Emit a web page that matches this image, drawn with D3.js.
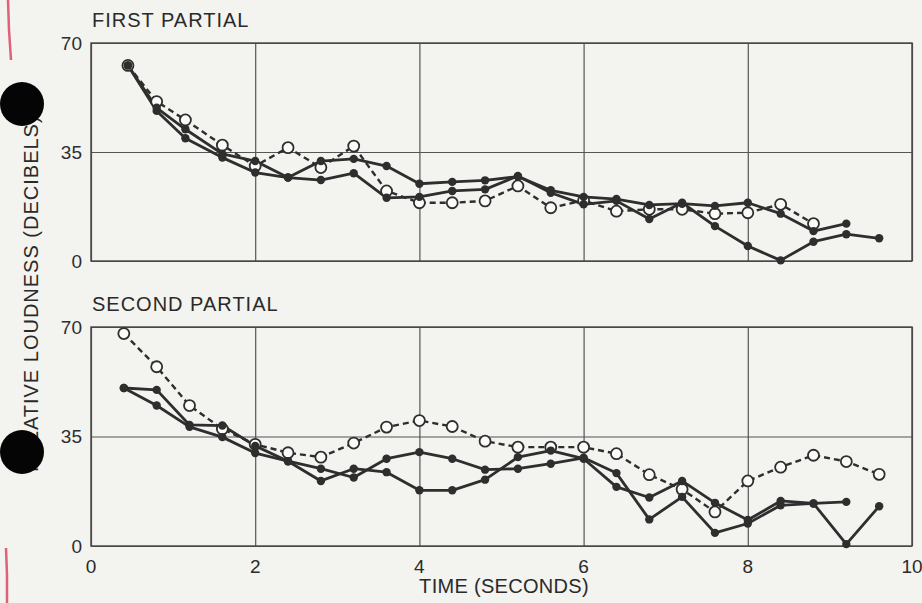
<!DOCTYPE html>
<html>
<head>
<meta charset="utf-8">
<script src="https://cdn.jsdelivr.net/npm/d3@7"></script>
<style>
  body { margin: 0; background: #f3f3f0; }
  svg { display: block; }
  text { font-family: "Liberation Sans", Arial, sans-serif; fill: #2a2a2a; }
</style>
</head>
<body>
<div id="container"></div>
<script>
/***** data *****/
let xTicks = [0, 2, 4, 6, 8, 10];
let yTicks = [0, 35, 70];

// first partial
let topTimes  = [0.45, 0.8, 1.15, 1.6, 2.0, 2.4, 2.8, 3.2, 3.6, 4.0, 4.4, 4.8, 5.2, 5.6, 6.0, 6.4, 6.8, 7.2, 7.6, 8.0, 8.4, 8.8, 9.2, 9.6];
let topA      = [62.8, 48.2, 39.4, 33.2, 28.4, 26.8, 26.0, 28.2, 20.3, 20.6, 22.5, 23.0, 27.3, 21.9, 18.2, 19.3, 13.5, 18.7, 11.2, 4.8, 0.2, 6.2, 8.6, 7.3];
let topB      = [62.8, 49.2, 42.3, 34.4, 32.1, 26.8, 32.1, 32.8, 30.5, 24.8, 25.4, 25.9, 27.1, 22.7, 20.6, 19.9, 18.0, 18.4, 17.7, 18.7, 15.2, 9.6, 12.0];
let topOpen   = [62.8, 51.2, 45.3, 37.2, 30.5, 36.4, 30.0, 36.9, 22.5, 18.7, 18.7, 19.3, 24.1, 17.1, 19.4, 16.0, 16.6, 16.6, 15.2, 15.5, 18.2, 12.0];

// second partial
let botTimes  = [0.4, 0.8, 1.2, 1.6, 2.0, 2.4, 2.8, 3.2, 3.6, 4.0, 4.4, 4.8, 5.2, 5.6, 6.0, 6.4, 6.8, 7.2, 7.6, 8.0, 8.4, 8.8, 9.2, 9.6];
let botA      = [50.5, 49.9, 38.7, 38.5, 32.0, 27.1, 20.8, 24.7, 23.6, 17.8, 17.8, 21.2, 28.4, 30.5, 27.9, 18.9, 15.5, 20.8, 13.8, 8.3, 14.4, 13.6, 14.1];
let botB      = [50.5, 44.9, 38.1, 34.8, 29.7, 27.1, 24.7, 21.9, 27.9, 30.0, 27.9, 24.4, 24.7, 26.3, 28.2, 23.3, 8.5, 15.7, 4.2, 7.2, 13.0, 13.6, 0.6, 12.7];
let botOpen   = [67.9, 57.3, 44.9, 37.4, 32.5, 29.8, 28.4, 32.9, 38.0, 40.1, 38.2, 33.5, 31.6, 31.6, 31.6, 29.5, 22.8, 18.1, 10.9, 20.8, 25.2, 29.0, 27.0, 22.9];

function pairs(times, vals){
  return vals.map((v, i) => ({t: times[i], v: v}));
}

/***** layout *****/
var width = 922, height = 603;
var left = 91, right = 912;

let svg = d3.select("#container")
  .append("svg")
    .attr("width", width)
    .attr("height", height);

var x = d3.scaleLinear().domain([0, 10]).range([left, right]);

let ink = "#2e2e2e";

function panel(title, top, bottom, times, series){
  var y = d3.scaleLinear().domain([0, 70]).range([bottom, top]);
  let g = svg.append("g");

  // vertical grid
  g.append("g")
    .attr("transform", "translate(0," + bottom + ")")
    .call(d3.axisBottom(x).tickValues(xTicks).tickSize(-(bottom - top)).tickFormat(""))
    .call(a => a.select(".domain").remove())
    .selectAll("line").attr("stroke", "#555").attr("stroke-width", 1.2);

  // horizontal grid + labels
  g.append("g")
    .attr("transform", "translate(" + left + ",0)")
    .call(d3.axisLeft(y).tickValues(yTicks).tickSize(-(right - left)).tickPadding(9))
    .call(a => a.select(".domain").remove())
    .call(a => a.selectAll("line").attr("stroke", "#555").attr("stroke-width", 1.2))
    .call(a => a.selectAll("text").attr("font-size", 19).style("fill", ink));

  // frame
  g.append("rect")
    .attr("x", left).attr("y", top)
    .attr("width", right - left).attr("height", bottom - top)
    .attr("fill", "none").attr("stroke", "#444").attr("stroke-width", 1.4);

  g.append("text")
    .attr("x", left + 1)
    .attr("y", top - 16)
    .attr("font-size", 20)
    .attr("letter-spacing", 1)
    .text(title);

  let line = d3.line().x(d => x(d.t)).y(d => y(d.v));

  series.forEach(s => {
    g.append("path")
      .datum(pairs(times, s.vals))
      .attr("fill", "none")
      .attr("stroke", ink)
      .attr("stroke-width", s.open ? 2.4 : 2.8)
      .attr("stroke-dasharray", s.open ? "6,4" : null)
      .attr("stroke-linejoin", "round")
      .attr("d", line);
  });

  // open markers under the filled ones
  series.filter(s => s.open).forEach(s => {
    g.selectAll(null)
      .data(pairs(times, s.vals))
      .enter().append("circle")
        .attr("cx", d => x(d.t)).attr("cy", d => y(d.v))
        .attr("r", 5.5)
        .attr("fill", "#fbfbf9")
        .attr("stroke", ink)
        .attr("stroke-width", 1.8);
  });
  series.filter(s => !s.open).forEach(s => {
    g.selectAll(null)
      .data(pairs(times, s.vals))
      .enter().append("circle")
        .attr("cx", d => x(d.t)).attr("cy", d => y(d.v))
        .attr("r", 4.2)
        .attr("fill", ink);
  });
}

panel("FIRST PARTIAL", 43, 261, topTimes, [
  {vals: topOpen, open: true},
  {vals: topA, open: false},
  {vals: topB, open: false}
]);

panel("SECOND PARTIAL", 327, 546, botTimes, [
  {vals: botOpen, open: true},
  {vals: botA, open: false},
  {vals: botB, open: false}
]);

// x tick labels
svg.append("g")
  .selectAll("text")
  .data(xTicks)
  .enter().append("text")
    .attr("x", d => x(d))
    .attr("y", 573)
    .attr("text-anchor", "middle")
    .attr("font-size", 19)
    .text(d => d);

svg.append("text")
  .attr("x", 504)
  .attr("y", 593)
  .attr("text-anchor", "middle")
  .attr("font-size", 20)
  .attr("letter-spacing", 0.3)
  .text("TIME (SECONDS)");

svg.append("text")
  .attr("transform", "translate(38,472) rotate(-90)")
  .attr("text-anchor", "start")
  .attr("font-size", 20)
  .attr("letter-spacing", 1.0)
  .text("RELATIVE LOUDNESS (DECIBELS)");

// binder holes and pen marks from the scan
svg.append("circle").attr("cx", 22).attr("cy", 104).attr("r", 22).attr("fill", "#050505");
svg.append("circle").attr("cx", 22).attr("cy", 452).attr("r", 22).attr("fill", "#050505");
svg.append("path").attr("d", "M8,0 L9,30 L11,60").attr("stroke", "#e0607a").attr("stroke-width", 2.5).attr("fill", "none");
svg.append("path").attr("d", "M6,548 L7,575 L7,603").attr("stroke", "#e0607a").attr("stroke-width", 2.5).attr("fill", "none");
</script>
</body>
</html>
